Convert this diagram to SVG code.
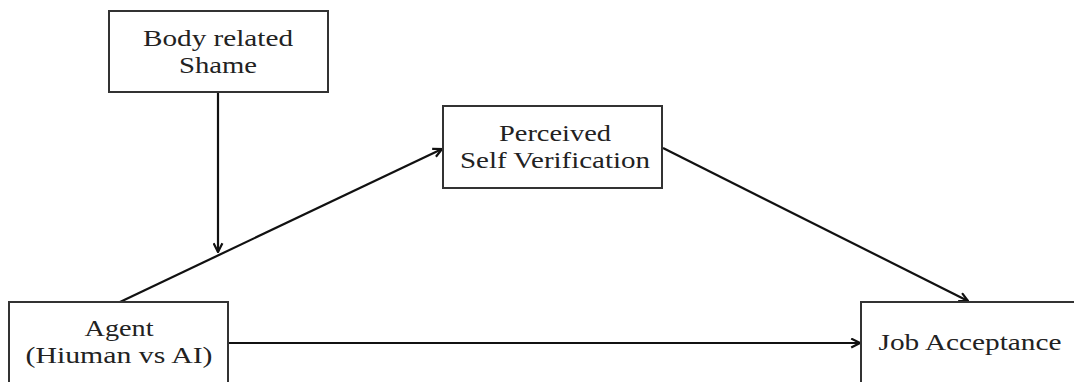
<svg xmlns="http://www.w3.org/2000/svg" width="1074" height="382" viewBox="0 0 1074 382">
<style>
.box{fill:#fff;stroke:#333;stroke-width:2}
.lbl{font-family:"Liberation Serif","Times New Roman",serif;font-size:24px;fill:#222;text-anchor:middle}
.edge{stroke:#111;stroke-width:2.2;fill:none;marker-end:url(#ah)}
</style>
<defs>
<marker id="ah" viewBox="0 0 10 10" refX="9" refY="5" markerWidth="5" markerHeight="5" orient="auto" markerUnits="strokeWidth">
<path d="M1,1 L9,5 L1,9" fill="none" stroke="#111" stroke-width="2"/>
</marker>
</defs>
<rect width="1074" height="382" fill="#fff"/>
<g id="connectors">
<line class="edge" x1="218" y1="92" x2="218" y2="252"/>
<line class="edge" x1="120" y1="302" x2="442" y2="149"/>
<line class="edge" x1="663" y1="148" x2="968" y2="301"/>
<line class="edge" x1="228" y1="343" x2="860" y2="343"/>
</g>
<g id="body-shame">
<rect class="box" x="109" y="11" width="219" height="81"/>
<text class="lbl" x="218" y="46" textLength="150" lengthAdjust="spacingAndGlyphs">Body related</text>
<text class="lbl" x="218" y="73" textLength="78" lengthAdjust="spacingAndGlyphs">Shame</text>
</g>
<g id="perceived-self-verification">
<rect class="box" x="443" y="106" width="219" height="82"/>
<text class="lbl" x="555" y="141" textLength="112" lengthAdjust="spacingAndGlyphs">Perceived</text>
<text class="lbl" x="555" y="168" textLength="190" lengthAdjust="spacingAndGlyphs">Self Verification</text>
</g>
<g id="agent">
<rect class="box" x="9" y="302" width="219" height="90"/>
<text class="lbl" x="119" y="336" textLength="69" lengthAdjust="spacingAndGlyphs">Agent</text>
<text class="lbl" x="119" y="363" textLength="187" lengthAdjust="spacingAndGlyphs">(Hiuman vs AI)</text>
</g>
<g id="job-acceptance">
<rect class="box" x="861" y="302" width="220" height="90"/>
<text class="lbl" x="970" y="350" textLength="183" lengthAdjust="spacingAndGlyphs">Job Acceptance</text>
</g>
</svg>
